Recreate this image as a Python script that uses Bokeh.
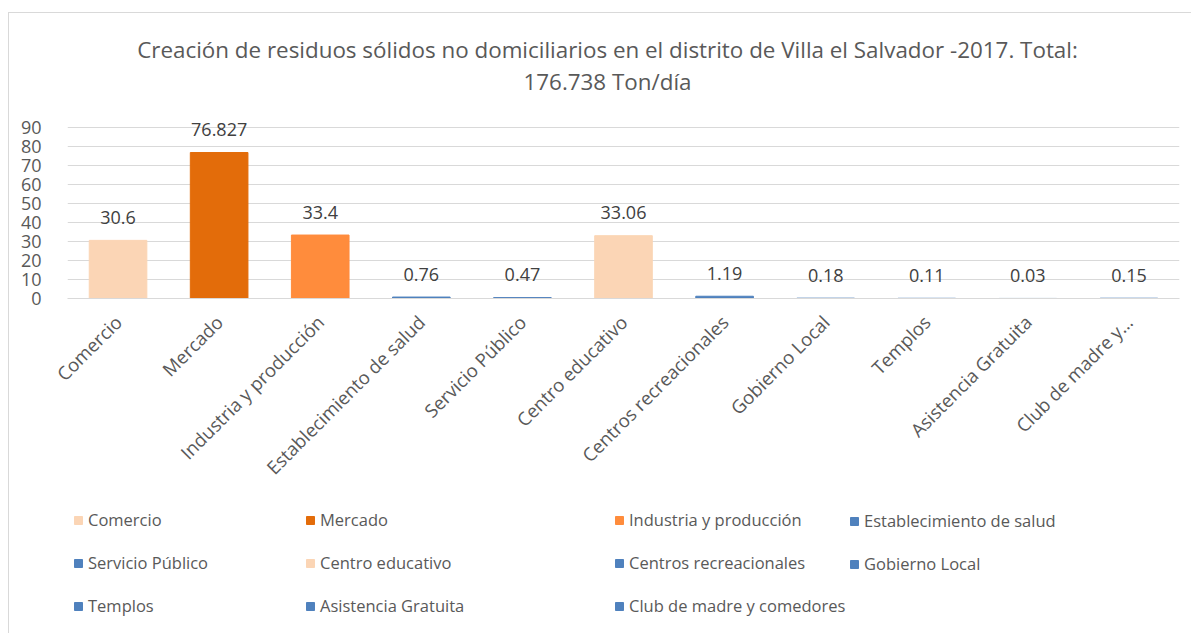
from bokeh.plotting import figure
from bokeh.layouts import column
from bokeh.models import Legend, LegendItem, Label, ColumnDataSource, Range1d, FixedTicker
from bokeh.core.properties import value
from bokeh.embed import file_html
from bokeh.resources import INLINE
import math

categories = ["Comercio", "Mercado", "Industria y producción", "Establecimiento de salud",
              "Servicio Público", "Centro educativo", "Centros recreacionales", "Gobierno Local",
              "Templos", "Asistencia Gratuita", "Club de madre y comedores"]
tick_labels = ["Comercio", "Mercado", "Industria y producción", "Establecimiento de salud",
               "Servicio Público", "Centro educativo", "Centros recreacionales", "Gobierno Local",
               "Templos", "Asistencia Gratuita", "Club de madre y…"]
values = [30.6, 76.827, 33.4, 0.76, 0.47, 33.06, 1.19, 0.18, 0.11, 0.03, 0.15]
value_labels = ["30.6", "76.827", "33.4", "0.76", "0.47", "33.06", "1.19", "0.18", "0.11", "0.03", "0.15"]
colors = ["#FBD5B5", "#E36C0A", "#FF8C3C", "#4F81BD", "#4F81BD", "#FBD5B5",
          "#4F81BD", "#4F81BD", "#4F81BD", "#4F81BD", "#4F81BD"]
y_ticks = [0, 10, 20, 30, 40, 50, 60, 70, 80, 90]
title_lines = ["Creación de residuos sólidos no domiciliarios en el distrito de Villa el Salvador -2017. Total:",
               "176.738 Ton/día"]

FONT = "Open Sans"
GREY = "#595959"
BORDER = "1px solid #D9D9D9"
W = 1183

src = ColumnDataSource(dict(cat=tick_labels, val=values, lab=value_labels, col=colors))


def blank(fig):
    fig.grid.grid_line_color = None
    fig.outline_line_color = None


# ---- title figure (its frame is aligned with the chart's frame by the column layout) ----
tf = figure(width=W, height=97, x_range=Range1d(0, 1), y_range=Range1d(0, 1),
            x_axis_location=None, y_axis_location=None,
            output_backend="svg", toolbar_location=None,
            min_border_left=0, min_border_right=0, min_border_top=0, min_border_bottom=0)
blank(tf)
tf.styles = {"margin-left": "8px", "margin-top": "12px", "border-left": BORDER, "border-top": BORDER}
for txt, ys in zip(title_lines, [61, 29]):
    tf.add_layout(Label(x=540, y=ys, x_units="screen", y_units="screen", text=txt,
                        text_align="center", text_baseline="middle", text_font=FONT,
                        text_font_size="22.4px", text_color=GREY))

# ---- main chart ----
p = figure(x_range=tick_labels, y_range=Range1d(0, 97.37), width=W, height=385,
           output_backend="svg", toolbar_location=None,
           min_border_left=58, min_border_right=13, min_border_bottom=196, min_border_top=4)
p.styles = {"margin-left": "8px", "border-left": BORDER}
p.outline_line_color = None

r = p.vbar(x="cat", top="val", width=0.57, color="col", source=src)
p.text(x="cat", y="val", text="lab", source=src, text_align="center", text_baseline="middle",
       y_offset=-23, text_font=value(FONT), text_font_size="18px", text_color="#404040")

p.yaxis.ticker = FixedTicker(ticks=y_ticks)
p.yaxis.axis_line_color = None
p.yaxis.major_tick_line_color = None
p.yaxis.minor_tick_line_color = None
p.yaxis.major_label_standoff = 20
p.yaxis.major_label_text_font = FONT
p.yaxis.major_label_text_font_size = "18px"
p.yaxis.major_label_text_color = GREY

p.xaxis.axis_line_color = "#D9D9D9"
p.xaxis.major_tick_line_color = None
p.xaxis.minor_tick_line_color = None
p.xaxis.major_label_orientation = math.pi / 4
p.xaxis.major_label_standoff = 14
p.xaxis.major_label_text_font = FONT
p.xaxis.major_label_text_font_size = "18.5px"
p.xaxis.major_label_text_color = GREY

p.xgrid.grid_line_color = None
p.ygrid.grid_line_color = "#D9D9D9"
p.ygrid.grid_line_width = 1

# ---- legend figure ----
lf = figure(x_range=tick_labels, y_range=Range1d(1000, 1001), width=W, height=139,
            x_axis_location=None, y_axis_location=None,
            output_backend="svg", toolbar_location=None,
            min_border_left=0, min_border_right=0, min_border_top=0, min_border_bottom=0)
blank(lf)
lf.styles = {"margin-left": "8px", "border-left": BORDER}
lr = lf.vbar(x="cat", top="val", width=0.57, color="col", source=src)

col_x = [6, 238, 547, 782]
for c in range(4):
    items = []
    for rr in range(3):
        i = rr * 4 + c
        if i < len(categories):
            items.append(LegendItem(label=categories[i], renderers=[lr], index=i))
    leg = Legend(items=items, location=(col_x[c], 16 if len(items) == 3 else 58),
                 orientation="vertical", padding=0, margin=0, spacing=20,
                 glyph_width=10, glyph_height=10, label_height=20, label_standoff=5,
                 label_text_font=FONT, label_text_font_size="16.5px", label_text_color=GREY,
                 border_line_alpha=0, background_fill_alpha=0)
    lf.add_layout(leg, "center")

layout = column(tf, p, lf, spacing=0)
open("out.html", "w").write(file_html(layout, INLINE))
